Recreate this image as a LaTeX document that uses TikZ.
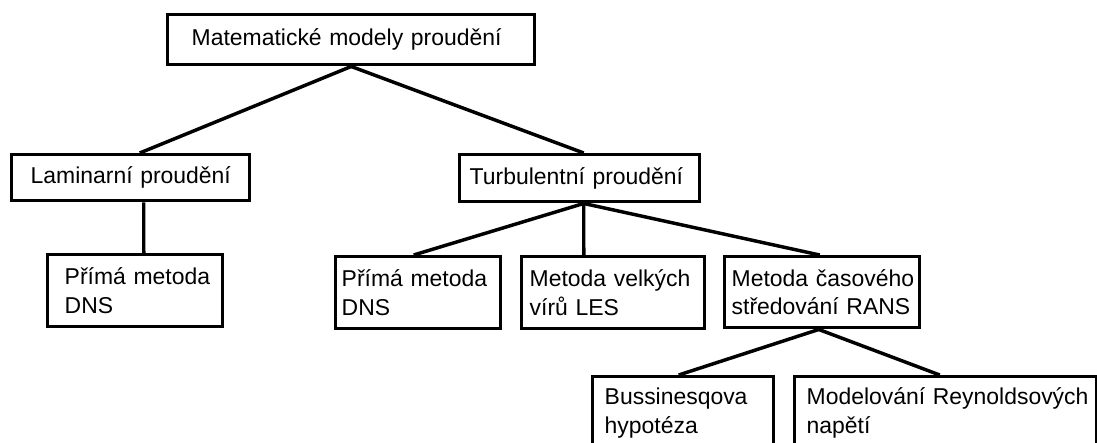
\documentclass[tikz,border=0pt]{standalone}
\usepackage{fontspec}
\setmainfont{Liberation Sans}
\begin{document}
\begin{tikzpicture}[x=0.75pt,y=-0.75pt,
  box/.style={draw, line width=2.6pt, anchor=north west, align=left, inner ysep=0pt,
    font=\fontsize{17.2pt}{21.5pt}\selectfont},
  conn/.style={line width=2.6pt}]
\useasboundingbox (0,0) rectangle (1097,443);
\clip (0,0) rectangle (1097,443);
\node[box, minimum height=37.5pt, text width=239.25pt, inner xsep=18pt] (top) at (166,13) {Matematické~modely~proudění};
\node[box, minimum height=34.5pt, text width=150pt, inner xsep=14.25pt] (lam) at (10,153) {Laminarní~proudění};
\node[box, minimum height=35.25pt, text width=165pt, inner xsep=7.5pt] (turb) at (458,153) {Turbulentní~proudění};
\node[box, minimum height=54pt, text width=105.75pt, inner xsep=12.75pt] (dnsa) at (46,253) {Přímá~metoda\\DNS};
\node[box, minimum height=54pt, text width=114.75pt, inner xsep=4.5pt] (dnsb) at (334,255) {Přímá~metoda\\DNS};
\node[box, minimum height=54pt, text width=125.25pt, inner xsep=6pt] (les) at (520,255) {Metoda~velkých\\vírů~LES};
\node[box, minimum height=53.25pt, text width=135.75pt, inner xsep=5.25pt] (rans) at (723,255) {Metoda~časového\\středování~RANS};
\node[box, minimum height=54pt, text width=117.75pt, inner xsep=9pt] (buss) at (591,375) {Bussinesqova\\hypotéza};
\node[box, minimum height=54pt, text width=208.5pt, inner xsep=9pt] (model) at (793,375) {Modelování~Reynoldsových\\napětí};
\draw[conn] (top.south) -- ([xshift=6.75pt]lam.north);
\draw[conn] (top.south) -- ([xshift=3pt]turb.north);
\draw[conn] ([xshift=9.75pt]lam.south) -- ([xshift=6.4pt]dnsa.north);
\draw[conn] ([xshift=3pt]turb.south) -- ([xshift=-3.4pt]dnsb.north);
\draw[conn] ([xshift=3pt]turb.south) -- ([xshift=-22.1pt]les.north);
\draw[conn] ([xshift=3pt]turb.south) -- ([xshift=-1.9pt]rans.north);
\draw[conn] ([xshift=-2.6pt]rans.south) -- ([xshift=-3.4pt]buss.north);
\draw[conn] ([xshift=-2.6pt]rans.south) -- ([xshift=-4.5pt]model.north);
\end{tikzpicture}
\end{document}
